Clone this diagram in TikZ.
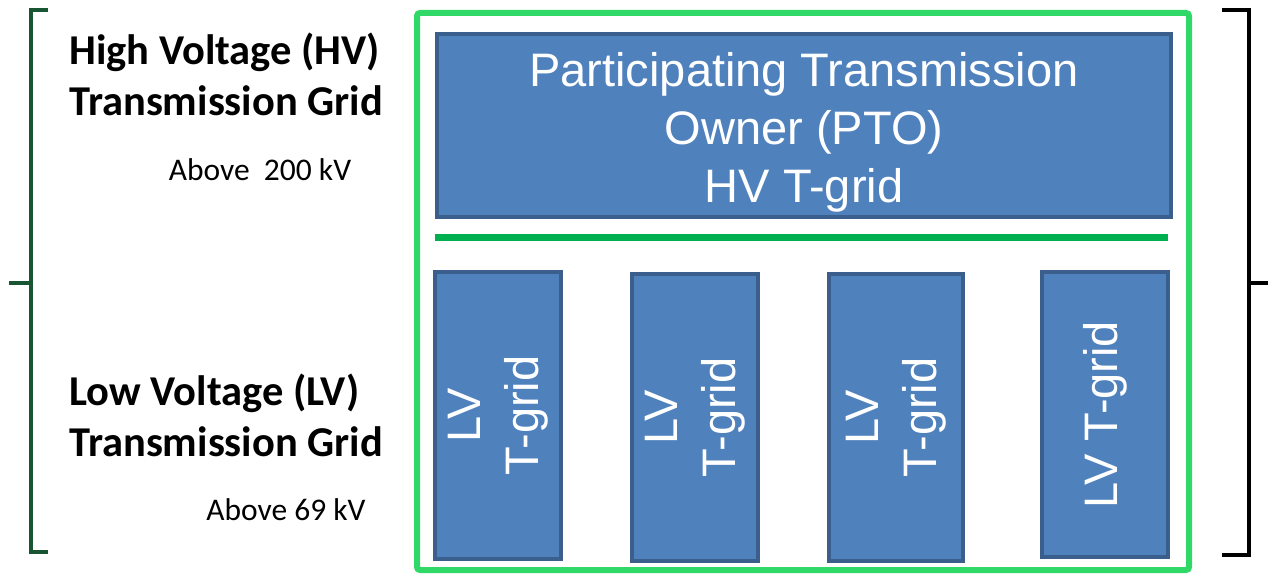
\documentclass[tikz,border=0pt]{standalone}
\usepackage{fontspec}
\setmainfont{Carlito}
\newfontfamily\boxfont{Liberation Sans}
\definecolor{gridblue}{HTML}{4F81BD}
\definecolor{gridedge}{HTML}{3A5F8C}
\definecolor{ptogreen}{HTML}{30D867}
\definecolor{splitgreen}{HTML}{00B050}
\definecolor{hvbracket}{HTML}{185633}

\begin{document}
\begin{tikzpicture}[x=1pt, y=-1pt,
    grid/.style={draw=gridedge, fill=gridblue, line width=4pt, text=white, align=center, inner sep=0pt,
        font=\boxfont\fontsize{47}{58}\selectfont},
    lvgrid/.style={grid, rotate=90, minimum width=287pt, minimum height=126pt},
    level/.style={align=left, inner sep=0pt, anchor=west, font=\bfseries\fontsize{42.5}{51}\selectfont},
    kvlabel/.style={inner sep=0pt, font=\fontsize{31.5}{36}\selectfont}]
    \useasboundingbox (0,0) rectangle (1268,577);
    % voltage levels
    \node[level] (hv) at (69,74) {High Voltage (HV)\\Transmission Grid};
    \node[kvlabel] (hvkv) at (260,170) {Above\ \ 200 kV};
    \node[level] (lv) at (69,415) {Low Voltage (LV)\\Transmission Grid};
    \node[kvlabel] (lvkv) at (286,510) {Above 69 kV};
    % brackets
    \draw[hvbracket, line width=4pt] (48,10) -- (31,10) -- (31,552) -- (48,552);
    \draw[hvbracket, line width=4pt] (9,283) -- (31,283);
    \draw[black, line width=4pt] (1222,10) -- (1249,10) -- (1249,555) -- (1222,555);
    \draw[black, line width=4pt] (1249,283) -- (1268,283);
    % PTO area
    \draw[ptogreen, line width=6pt, rounded corners=3pt] (417,13) rectangle (1189,570);
    \node[grid, minimum width=734pt, minimum height=183pt] (pto) at (804,125.5)
        {\rule{0pt}{48pt}Participating Transmission\\Owner (PTO)\\HV T-grid};
    \draw[splitgreen, line width=7pt] (435,238) -- (1168,238);
    \node[lvgrid] (lv1) at (498,415.5) {LV\\T-grid};
    \node[lvgrid] (lv2) at (695,417.5) {LV\\T-grid};
    \node[lvgrid, minimum height=134pt] (lv3) at (896,417.5) {LV\\T-grid};
    \node[lvgrid, minimum width=285pt] (lv4) at (1105,414.5) {LV T-grid};
\end{tikzpicture}
\end{document}
